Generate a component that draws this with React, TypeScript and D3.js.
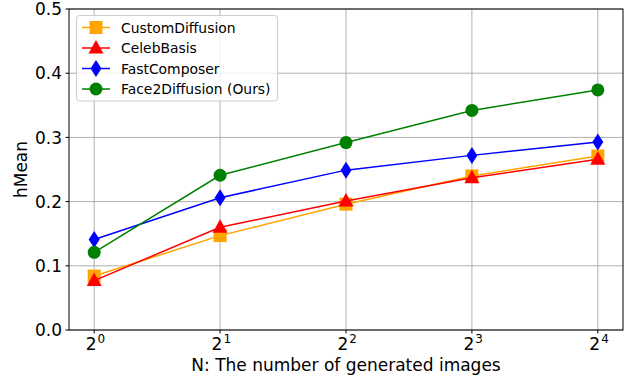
import * as d3 from "d3";
import { useEffect, useRef } from "react";

const W = 626;
const H = 379;
const margin = { top: 9, right: 3, bottom: 49, left: 69 };

// x positions as exponents of 2
const exponents = [0, 1, 2, 3, 4];
const yTicks = [0, 0.1, 0.2, 0.3, 0.4, 0.5];

const customDiffusion = [0.084, 0.147, 0.196, 0.24, 0.271];
const celebBasis = [0.077, 0.16, 0.201, 0.237, 0.266];
const fastComposer = [0.141, 0.206, 0.249, 0.272, 0.293];
const face2Diffusion = [0.121, 0.241, 0.292, 0.342, 0.374];

const series = [
	{ name: "CustomDiffusion", values: customDiffusion, color: "#ffa500", marker: "square" },
	{ name: "CelebBasis", values: celebBasis, color: "#ff0000", marker: "triangle" },
	{ name: "FastComposer", values: fastComposer, color: "#0000ff", marker: "diamond" },
	{ name: "Face2Diffusion (Ours)", values: face2Diffusion, color: "#008000", marker: "circle" }
];

const font = "DejaVu Sans, sans-serif";
const fs = 17;

const drawMarker = (g, type, x, y, color) => {
	if (type === "square") {
		g.append("rect").attr("x", x - 6.5).attr("y", y - 6.5).attr("width", 13).attr("height", 13).attr("fill", color);
	} else if (type === "triangle") {
		g.append("path").attr("d", `M${x},${y - 8} L${x + 7.5},${y + 5.5} L${x - 7.5},${y + 5.5} Z`).attr("fill", color);
	} else if (type === "diamond") {
		g.append("path").attr("d", `M${x},${y - 8.5} L${x + 5.5},${y} L${x},${y + 8.5} L${x - 5.5},${y} Z`).attr("fill", color);
	} else {
		g.append("circle").attr("cx", x).attr("cy", y).attr("r", 6.5).attr("fill", color);
	}
};

const App = () => {
	const ref = useRef(null);

	useEffect(() => {
		const svg = d3.select(ref.current);
		svg.selectAll("*").remove();

		const x = d3.scaleLinear().domain([-0.2, 4.2]).range([margin.left, W - margin.right]);
		const y = d3.scaleLinear().domain([0, 0.5]).range([H - margin.bottom, margin.top]);

		// grid
		const grid = svg.append("g");
		exponents.forEach(e => {
			grid.append("line").attr("x1", x(e)).attr("x2", x(e)).attr("y1", y(0)).attr("y2", y(0.5))
				.attr("stroke", "#b0b0b0").attr("stroke-width", 1);
		});
		yTicks.forEach(t => {
			grid.append("line").attr("x1", x(-0.2)).attr("x2", x(4.2)).attr("y1", y(t)).attr("y2", y(t))
				.attr("stroke", "#b0b0b0").attr("stroke-width", 1);
		});

		// lines + markers
		const line = d3.line().x(d => x(d[0])).y(d => y(d[1]));
		series.forEach(s => {
			const pts = exponents.map((e, i) => [e, s.values[i]]);
			svg.append("path").attr("d", line(pts)).attr("fill", "none").attr("stroke", s.color).attr("stroke-width", 1.5);
			const mg = svg.append("g");
			pts.forEach(p => drawMarker(mg, s.marker, x(p[0]), y(p[1]), s.color));
		});

		// frame
		svg.append("rect").attr("x", x(-0.2)).attr("y", y(0.5)).attr("width", x(4.2) - x(-0.2)).attr("height", y(0) - y(0.5))
			.attr("fill", "none").attr("stroke", "#000").attr("stroke-width", 1);

		// y ticks
		yTicks.forEach(t => {
			svg.append("line").attr("x1", x(-0.2) - 3.5).attr("x2", x(-0.2)).attr("y1", y(t)).attr("y2", y(t)).attr("stroke", "#000");
			svg.append("text").attr("x", x(-0.2) - 7).attr("y", y(t)).attr("dy", "0.36em").attr("text-anchor", "end")
				.attr("font-family", font).attr("font-size", fs).text(t.toFixed(1));
		});

		// x ticks
		exponents.forEach(e => {
			svg.append("line").attr("x1", x(e)).attr("x2", x(e)).attr("y1", y(0)).attr("y2", y(0) + 3.5).attr("stroke", "#000");
			const t = svg.append("text").attr("x", x(e) - 8.5).attr("y", y(0) + 20)
				.attr("font-family", font).attr("font-size", fs);
			t.append("tspan").text("2");
			t.append("tspan").attr("dx", 1).attr("dy", -7).attr("font-size", 12).text(String(e));
		});

		// axis labels
		svg.append("text").attr("x", (x(-0.2) + x(4.2)) / 2).attr("y", H - 8).attr("text-anchor", "middle")
			.attr("font-family", font).attr("font-size", fs).text("N: The number of generated images");
		svg.append("text").attr("transform", `translate(27, ${(y(0) + y(0.5)) / 2}) rotate(-90)`).attr("text-anchor", "middle")
			.attr("font-family", font).attr("font-size", fs).text("hMean");

		// legend
		const lg = svg.append("g");
		lg.append("rect").attr("x", 76.5).attr("y", 15.5).attr("width", 201).attr("height", 85.5).attr("rx", 3)
			.attr("fill", "#fff").attr("fill-opacity", 0.8).attr("stroke", "#cccccc").attr("stroke-width", 1);
		series.forEach((s, i) => {
			const ly = 27.5 + i * 20.5;
			lg.append("line").attr("x1", 82).attr("x2", 110).attr("y1", ly).attr("y2", ly).attr("stroke", s.color).attr("stroke-width", 1.5);
			drawMarker(lg, s.marker, 96, ly, s.color);
			lg.append("text").attr("x", 121).attr("y", ly).attr("dy", "0.36em").attr("font-family", font).attr("font-size", 13.9).text(s.name);
		});
	}, []);

	return (
		<svg ref={ref} width={W} height={H} style={{ position: "absolute", left: 0, top: 0, background: "#fff" }} />
	);
};

export default App;
